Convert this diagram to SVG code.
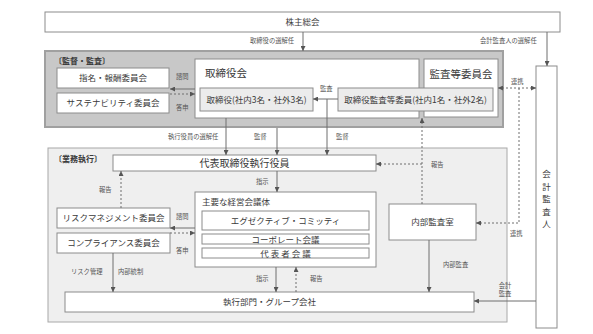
<svg xmlns="http://www.w3.org/2000/svg" width="593" height="334" viewBox="0 0 593 334">
<style>
text{font-family:"Noto Sans CJK JP","Noto Sans",sans-serif;fill:#3a3a3a}
.box{fill:#fff;stroke:#8c8c8c;stroke-width:1}
.gbox{fill:#ececec;stroke:#8c8c8c;stroke-width:1}
.t{font-size:8.5px}
.tl{font-size:10.5px}
.s{font-size:6.3px;fill:#555}
.hd{font-size:8px;font-weight:bold}
.ln{stroke:#6e6e6e;stroke-width:1;fill:none}
.dl{stroke:#6e6e6e;stroke-width:1;fill:none;stroke-dasharray:2,2}
</style>
<defs>
<marker id="ah" viewBox="0 0 6 6" refX="6" refY="3" markerWidth="5" markerHeight="5" orient="auto-start-reverse"><path d="M0,0 L6,3 L0,6 z" fill="#555"/></marker>
</defs>

<g id="grp-kantoku">
<rect x="45" y="51" width="458" height="76" fill="#c8c8c8" stroke="#a0a0a0" stroke-width="2"/>
<text class="hd" x="54" y="64">〔監督・監査〕</text>
</g>
<g id="grp-gyomu">
<rect x="48" y="148" width="459" height="174" fill="#efefef" stroke="#a8a8a8" stroke-width="1"/>
<text class="hd" x="54" y="162">〔業務執行〕</text>
</g>

<g id="kabunushi">
<rect class="box" x="45" y="12" width="515" height="20"/>
<text class="t" x="302.5" y="25" text-anchor="middle">株主総会</text>
</g>
<g id="shimei">
<rect class="box" x="57" y="68" width="112" height="20"/>
<text class="t" x="113" y="81" text-anchor="middle">指名・報酬委員会</text>
</g>
<g id="sustain">
<rect class="box" x="57" y="93" width="112" height="20"/>
<text class="t" x="113" y="106" text-anchor="middle">サステナビリティ委員会</text>
</g>
<g id="torishimariyakukai">
<rect class="box" x="195" y="59" width="224" height="59"/>
<text class="tl" x="205" y="77">取締役会</text>
</g>
<g id="kansatou">
<rect class="box" x="424" y="59" width="74" height="58"/>
<text class="tl" x="461" y="78" text-anchor="middle">監査等委員会</text>
</g>
<g id="torishimariyaku">
<rect class="gbox" x="200" y="88" width="113" height="23"/>
<text class="t" x="256.5" y="102.5" text-anchor="middle">取締役(社内3名・社外3名)</text>
</g>
<g id="kansatouiin">
<rect class="gbox" x="338" y="88" width="155" height="23"/>
<text class="t" x="415.5" y="102.5" text-anchor="middle">取締役監査等委員(社内1名・社外2名)</text>
</g>
<g id="kaikeikansanin">
<rect class="box" x="536" y="66" width="21" height="262"/>
<text class="t" x="546.5" y="177" text-anchor="middle">会</text>
<text class="t" x="546.5" y="189.5" text-anchor="middle">計</text>
<text class="t" x="546.5" y="202" text-anchor="middle">監</text>
<text class="t" x="546.5" y="214.5" text-anchor="middle">査</text>
<text class="t" x="546.5" y="227" text-anchor="middle">人</text>
</g>
<g id="daihyo">
<rect class="box" x="113" y="155" width="263" height="16"/>
<text class="tl" x="244.5" y="167" text-anchor="middle" style="font-size:10px">代表取締役執行役員</text>
</g>
<g id="risk">
<rect class="box" x="57" y="208" width="113" height="20"/>
<text class="t" x="113.5" y="221" text-anchor="middle">リスクマネジメント委員会</text>
</g>
<g id="compliance">
<rect class="box" x="57" y="233" width="113" height="20"/>
<text class="t" x="113.5" y="246" text-anchor="middle">コンプライアンス委員会</text>
</g>
<g id="keiei">
<rect class="box" x="195" y="192" width="181" height="75"/>
<text class="t" x="202" y="205">主要な経営会議体</text>
<rect class="box" x="202" y="211" width="167" height="19"/>
<text class="t" x="285.5" y="223.5" text-anchor="middle">エグゼクティブ・コミッティ</text>
<rect class="box" x="202" y="234" width="167" height="10"/>
<text class="t" x="285.5" y="242.5" text-anchor="middle">コーポレート会議</text>
<rect class="box" x="202" y="248" width="167" height="10"/>
<text class="t" x="286.5" y="256.5" text-anchor="middle" letter-spacing="2">代表者会議</text>
</g>
<g id="naibukansa">
<rect class="box" x="389" y="204" width="87" height="36"/>
<text class="t" x="432.5" y="225" text-anchor="middle">内部監査室</text>
</g>
<g id="shikkou">
<rect class="box" x="65" y="292" width="409" height="20"/>
<text class="t" x="269.5" y="305" text-anchor="middle">執行部門・グループ会社</text>
</g>

<g id="connectors">
<line class="ln" x1="303" y1="32" x2="303" y2="51" marker-end="url(#ah)"/>
<text class="s" x="250" y="43">取締役の選解任</text>
<line class="ln" x1="547" y1="32" x2="547" y2="66" marker-end="url(#ah)"/>
<text class="s" x="480" y="43">会計監査人の選解任</text>

<line class="ln" x1="195" y1="89" x2="170" y2="89" marker-end="url(#ah)"/>
<line class="dl" x1="170" y1="94" x2="195" y2="94" marker-end="url(#ah)"/>
<text class="s" x="176" y="79">諮問</text>
<text class="s" x="176" y="110">答申</text>

<line class="ln" x1="338" y1="99" x2="313" y2="99" marker-end="url(#ah)"/>
<text class="s" x="320" y="91">監査</text>
<line class="ln" x1="327" y1="99" x2="327" y2="155" marker-end="url(#ah)"/>
<text class="s" x="336" y="139">監督</text>

<line class="ln" x1="226" y1="118" x2="226" y2="155" marker-end="url(#ah)"/>
<text class="s" x="168" y="139">執行役員の選解任</text>
<line class="ln" x1="277" y1="128" x2="277" y2="155" marker-end="url(#ah)"/>
<text class="s" x="254" y="139">監督</text>

<line class="dl" x1="498" y1="88" x2="536" y2="88" marker-start="url(#ah)" marker-end="url(#ah)"/>
<text class="s" x="511" y="84">連携</text>
<polyline class="dl" points="519,88 519,223 476,223" marker-end="url(#ah)"/>
<text class="s" x="510" y="236">連携</text>

<polyline class="dl" points="422,204 422,118" marker-end="url(#ah)"/>
<line class="dl" x1="422" y1="164" x2="376" y2="164" marker-end="url(#ah)"/>
<text class="s" x="431" y="167">報告</text>

<line class="dl" x1="121" y1="208" x2="121" y2="171" marker-end="url(#ah)"/>
<text class="s" x="99" y="192">報告</text>

<line class="ln" x1="277" y1="171" x2="277" y2="192" marker-end="url(#ah)"/>
<text class="s" x="256" y="184">指示</text>

<line class="ln" x1="195" y1="228" x2="170" y2="228" marker-end="url(#ah)"/>
<line class="dl" x1="170" y1="233" x2="195" y2="233" marker-end="url(#ah)"/>
<text class="s" x="176" y="219">諮問</text>
<text class="s" x="176" y="253">答申</text>

<line class="ln" x1="113" y1="253" x2="113" y2="292" marker-end="url(#ah)"/>
<text class="s" x="71" y="274">リスク管理</text>
<text class="s" x="118" y="274">内部統制</text>

<line class="ln" x1="276" y1="267" x2="276" y2="292" marker-end="url(#ah)"/>
<text class="s" x="256" y="281">指示</text>
<line class="dl" x1="296" y1="292" x2="296" y2="267" marker-end="url(#ah)"/>
<text class="s" x="310" y="281">報告</text>

<line class="ln" x1="429" y1="240" x2="429" y2="292" marker-end="url(#ah)"/>
<text class="s" x="443" y="267">内部監査</text>

<line class="ln" x1="536" y1="301" x2="474" y2="301" marker-end="url(#ah)"/>
<text class="s" x="505" y="288" text-anchor="middle">会計</text>
<text class="s" x="505" y="296" text-anchor="middle">監査</text>
</g>
</svg>
